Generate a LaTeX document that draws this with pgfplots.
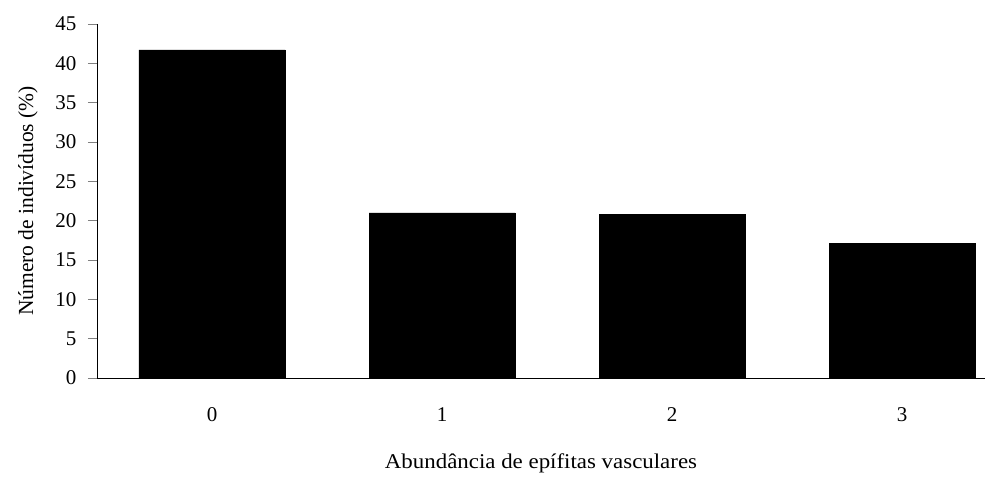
\documentclass[border=0pt]{standalone}
\usepackage{fontspec}
\setmainfont{Liberation Serif}
\newfontfamily\widefont[FakeStretch=1.09]{Liberation Serif}
\usepackage{pgfplots}
\pgfplotsset{compat=1.18}
\begin{document}
\begin{tikzpicture}
\begin{axis}[
  at={(0,0)}, anchor=south west,
  scale only axis,
  width=888pt, height=354pt,
  xmin=-0.5, xmax=3.36,
  ymin=0, ymax=45,
  axis lines=left,
  axis line style={-, line width=0.8pt},
  ybar, bar width=0.635,
  ytick={0,5,...,45},
  xtick={0,1,2,3},
  xticklabels={0,1,2,3},
  major x tick style={draw=none},
  extra x ticks={-0.5,0.5,1.5,2.5},
  extra x tick labels={},
  extra x tick style={tick style={draw=black, line width=0.8pt}, major tick length=6pt},
  y tick style={line width=0.8pt},
  tick align=outside,
  major tick length=9pt,
  tick label style={font=\fontsize{21}{25}\selectfont},
  /pgf/number format/assume math mode=true,
  yticklabel style={xshift=-8pt},
  xticklabel style={yshift=-17pt},
  xlabel={Abundância de epífitas vasculares},
  ylabel={Número de indivíduos (\%)},
  xlabel style={font=\widefont\fontsize{21}{25}\selectfont, yshift=-10pt},
  ylabel style={font=\fontsize{21.5}{25}\selectfont, yshift=11pt},
  clip=false,
]
\addplot[fill=black, draw=black] coordinates {(0,41.7) (1,21.0) (2,20.8) (3,17.1)};
\end{axis}
\useasboundingbox (-97pt,-94pt) rectangle (911pt,378pt);
\end{tikzpicture}
\end{document}
